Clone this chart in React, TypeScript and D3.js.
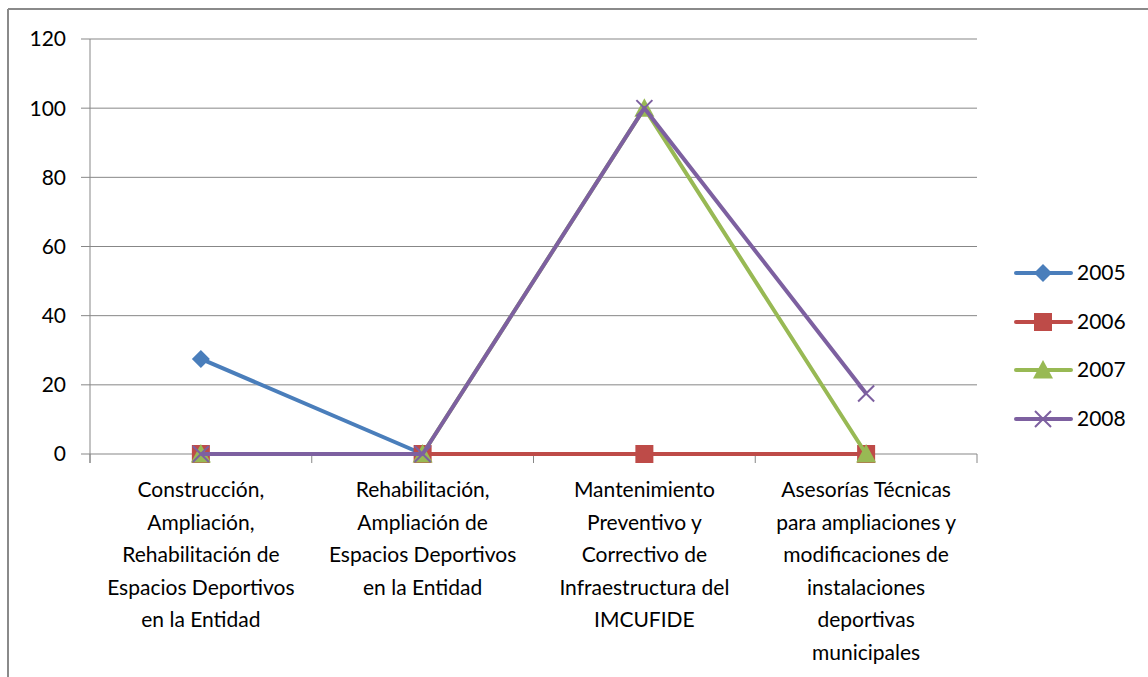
import React from "react";
import * as d3 from "d3";

const categories: string[][] = [
  ["Construcción,", "Ampliación,", "Rehabilitación de", "Espacios Deportivos", "en la Entidad"],
  ["Rehabilitación,", "Ampliación de", "Espacios Deportivos", "en la Entidad"],
  ["Mantenimiento", "Preventivo y", "Correctivo de", "Infraestructura del", "IMCUFIDE"],
  ["Asesorías Técnicas", "para ampliaciones y", "modificaciones de", "instalaciones", "deportivas", "municipales"],
];
const seriesNames = ["2005", "2006", "2007", "2008"];
const v2005 = [27.5, 0, 0, 0];
const v2006 = [0, 0, 0, 0];
const v2007 = [0, 0, 100, 0];
const v2008 = [0, 0, 100, 17.5];
const yTicks = [0, 20, 40, 60, 80, 100, 120];
const colors = ["#4A7EBB", "#BE4B48", "#98B954", "#7D60A0"];
const markers = ["diamond", "square", "triangle", "x"];

const W = 1148, H = 677;
const left = 90, right = 977, top = 39, bottom = 454;
const font = "Lato, 'Open Sans', sans-serif";
const fs = 21;

function Marker({ type, x, y, color }: { type: string; x: number; y: number; color: string }) {
  if (type === "diamond") {
    const s = 9;
    return <path d={`M${x},${y - s}L${x + s},${y}L${x},${y + s}L${x - s},${y}Z`} fill={color} />;
  }
  if (type === "square") {
    const s = 9;
    return <rect x={x - s} y={y - s} width={2 * s} height={2 * s} fill={color} />;
  }
  if (type === "triangle") {
    const s = 10;
    return <path d={`M${x},${y - s}L${x + s},${y + s * 0.85}L${x - s},${y + s * 0.85}Z`} fill={color} />;
  }
  const s = 8;
  return (
    <path d={`M${x - s},${y - s}L${x + s},${y + s}M${x - s},${y + s}L${x + s},${y - s}`} stroke={color} strokeWidth={2} fill="none" />
  );
}

export default function App() {
  const series = [v2005, v2006, v2007, v2008];
  const x = d3.scaleBand<number>().domain(d3.range(categories.length)).range([left, right]);
  const y = d3.scaleLinear().domain([0, 120]).range([bottom, top]);
  const line = d3
    .line<number>()
    .x((_, i) => (x(i) as number) + x.bandwidth() / 2)
    .y((d) => y(d));
  const gridColor = "#878787";
  const legendY = [273, 322, 370, 419];

  return (
    <svg width={W} height={H} style={{ position: "absolute", left: 0, top: 0 }} fontFamily={font}>
      <rect x={0} y={0} width={W} height={H} fill="#fff" />
      <line x1={8} y1={9} x2={W} y2={9} stroke="#8a8a8a" strokeWidth={2} />
      <line x1={8} y1={9} x2={8} y2={H} stroke="#8a8a8a" strokeWidth={2} />
      {yTicks.map((t) => (
        <g key={t}>
          <line x1={left - 9} x2={right} y1={y(t)} y2={y(t)} stroke={gridColor} strokeWidth={1} />
          <text x={66} y={y(t)} dy="0.35em" textAnchor="end" fontSize={fs} fill="#000">
            {t}
          </text>
        </g>
      ))}
      <line x1={left} x2={left} y1={top} y2={bottom + 9} stroke={gridColor} strokeWidth={1} />
      {d3.range(categories.length + 1).map((i) => {
        const xx = i < categories.length ? (x(i) as number) : right;
        return <line key={i} x1={xx} x2={xx} y1={bottom} y2={bottom + 9} stroke={gridColor} strokeWidth={1} />;
      })}
      {categories.map((lines, i) => (
        <text key={i} textAnchor="middle" fontSize={fs} fill="#000">
          {lines.map((l, j) => (
            <tspan key={j} x={(x(i) as number) + x.bandwidth() / 2} y={490 + j * 32.5} dy="0.35em">
              {l}
            </tspan>
          ))}
        </text>
      ))}
      {series.map((s, k) => (
        <g key={k}>
          <path d={line(s) || ""} fill="none" stroke={colors[k]} strokeWidth={4} strokeLinejoin="round" />
          {s.map((v, i) => (
            <Marker key={i} type={markers[k]} x={(x(i) as number) + x.bandwidth() / 2} y={y(v)} color={colors[k]} />
          ))}
        </g>
      ))}
      {seriesNames.map((n, k) => (
        <g key={n}>
          <line x1={1016} x2={1071} y1={legendY[k]} y2={legendY[k]} stroke={colors[k]} strokeWidth={4} strokeLinecap="round" />
          <Marker type={markers[k]} x={1043} y={legendY[k]} color={colors[k]} />
          <text x={1077} y={legendY[k]} dy="0.35em" fontSize={fs} fill="#000">
            {n}
          </text>
        </g>
      ))}
    </svg>
  );
}
